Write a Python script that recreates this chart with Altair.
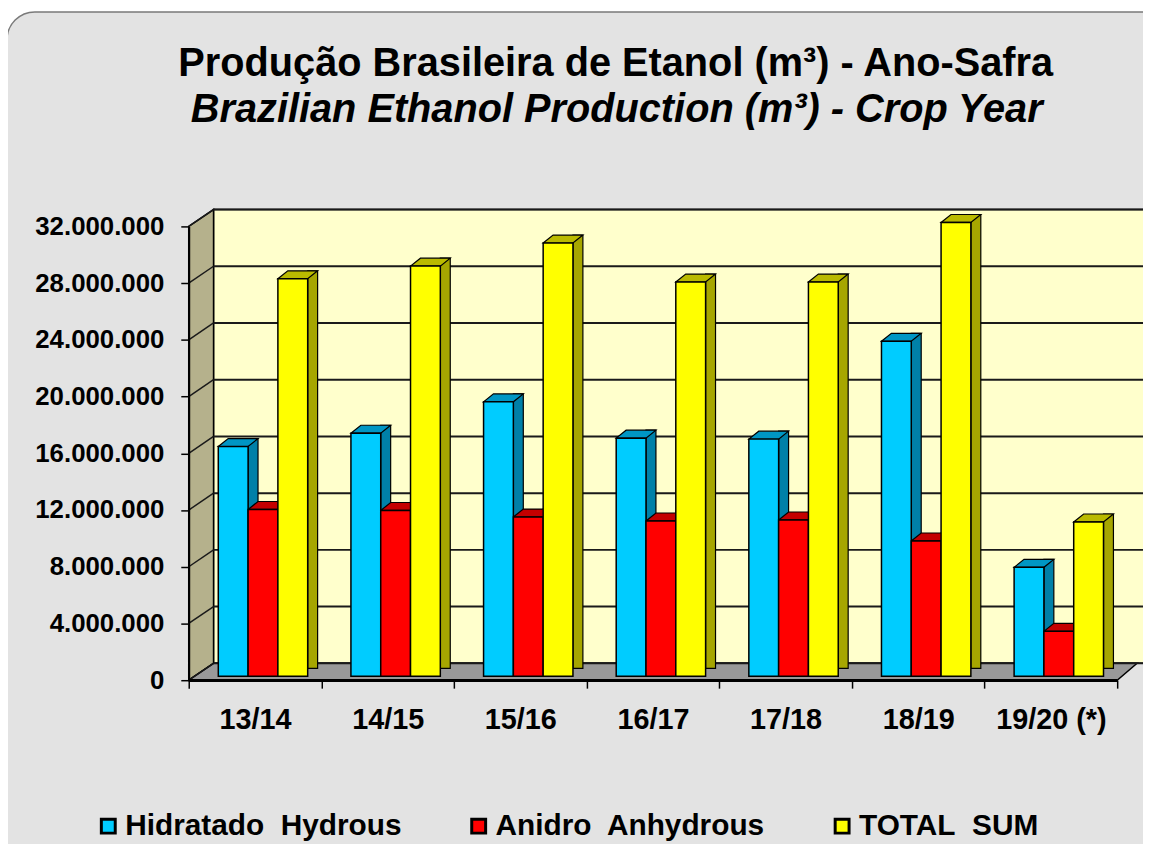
import altair as alt
import pandas as pd

# ---------------- data ----------------
crops = ["13/14", "14/15", "15/16", "16/17", "17/18", "18/19", "19/20 (*)"]
series = ["Hidratado\u00a0 Hydrous", "Anidro\u00a0 Anhydrous", "TOTAL\u00a0 SUM"]
hydrous = [16200000, 17140000, 19350000, 16790000, 16720000, 23620000, 7680000]
anhydrous = [11760000, 11690000, 11230000, 10950000, 11020000, 9540000, 3170000]
total = [28030000, 28920000, 30550000, 27800000, 27800000, 32000000, 10880000]
y_ticks = [0, 4000000, 8000000, 12000000, 16000000, 20000000, 24000000, 28000000, 32000000]
title_pt = "Produção Brasileira de Etanol (m³) - Ano-Safra"
title_en = "Brazilian Ethanol Production (m³) - Crop Year"

# ---------------- styles ----------------
front_colors = ["#00CCFF", "#FF0000", "#FFFF00"]
side_colors = ["#0080A8", "#A00000", "#A6A600"]
top_colors = ["#0096C4", "#C40000", "#BABA00"]
FONT = "Liberation Sans"

W, H = 935, 457          # plot area (front plane)
DX, DY = 25, 17          # wall depth
BX, BY = 10, 8           # bar depth
SX, SY = 8, 4            # bar set-back
PI, PO = 0.326, 0.163
SUB = W / 7 * (1 - PI) / 3   # width of one bar
h = SUB / 2

rows = []
for i, c in enumerate(crops):
    for s, vals in zip(series, [hydrous, anhydrous, total]):
        rows.append({"crop": c, "series": s, "value": vals[i]})
df = pd.DataFrame(rows)
ticks_df = pd.DataFrame({"v": y_ticks})
one = pd.DataFrame({"k": [0]})

y_scale = alt.Scale(domain=[0, 32000000], nice=False, zero=True)
y_axis = alt.Axis(
    title=None, values=y_ticks,
    labelExpr="replace(replace(format(datum.value, ',d'), ',', '.'), ',', '.')",
    labelFontSize=26, labelFontWeight="bold", labelFont=FONT, labelColor="black",
    grid=False, domainColor="black", domainWidth=2, tickColor="black", tickSize=8,
    tickWidth=1.5, labelPadding=17, zindex=1,
)
x_axis = alt.Axis(
    title=None, labelFontSize=29, labelFontWeight="bold", labelFont=FONT, labelColor="black",
    labelAngle=0, domainColor="black", domainWidth=2.5, tickColor="black", tickWidth=1.5,
    tickSize=8, tickBand="extent", labelPadding=18, labelLimit=300, zindex=1,
)


def yenc(field="value"):
    return alt.Y(f"{field}:Q", scale=y_scale, axis=y_axis)


def xbars(shift):
    return alt.X("crop:N", sort=crops, axis=None,
                 scale=alt.Scale(type="band", paddingInner=PI, paddingOuter=PO,
                                 range=[shift, W + shift]))


xo = alt.XOffset("series:N", sort=series,
                 scale=alt.Scale(type="band", domain=series, paddingInner=0, paddingOuter=0))

# ---------------- decorations ----------------
panel = alt.Chart(one).mark_rect(
    cornerRadius=28, fill="#E3E3E3", stroke="#7A7A7A", strokeWidth=1.5
).encode(x=alt.value(-183), x2=alt.value(1000), y=alt.value(-216), y2=alt.value(660))


def poly(points, fill, sw=1.5):
    path = "M" + "L".join(f"{a},{b}" for a, b in points) + "Z"
    return alt.Chart(one).mark_point(
        shape=path, size=4, filled=True, fill=fill, stroke="black",
        strokeWidth=sw, opacity=1
    ).encode(x=alt.value(0), y=alt.value(H))


back_wall = poly([(DX, -DY), (W + DX + 10, -DY), (W + DX + 10, -H - DY), (DX, -H - DY)], "#FFFFCC")
side_wall = poly([(0, 0), (DX, -DY), (DX, -H - DY), (0, -H)], "#B5B18C")
floor = poly([(0, 0), (W, 0), (W + DX - 5, -DY), (DX, -DY)], "#999999")

grid = alt.Chart(ticks_df).mark_rule(color="#1A1A1A", strokeWidth=2, yOffset=-DY).encode(
    y=yenc("v"), x=alt.value(DX), x2=alt.value(W + DX + 10)
)
diag = alt.Chart(ticks_df).mark_rule(color="#1A1A1A", strokeWidth=1.5, y2Offset=-DY).encode(
    y=yenc("v"), y2=alt.Y2("v"), x=alt.value(0), x2=alt.value(DX)
)

# invisible layer that carries the category axis (ticks at band extents)
axis_holder = alt.Chart(df).mark_bar(opacity=0).encode(
    x=alt.X("crop:N", sort=crops, axis=x_axis,
            scale=alt.Scale(type="band", paddingInner=0, paddingOuter=0)),
    y=yenc(),
)

# ---------------- bars ----------------
sides = alt.Chart(df).mark_bar(
    width=BX, yOffset=-SY - BY, y2Offset=-SY - BY / 2, stroke="black", strokeWidth=1.2
).encode(
    x=xbars(SX + h + BX / 2), xOffset=xo, y=yenc(),
    color=alt.Color("series:N", scale=alt.Scale(domain=series, range=side_colors), legend=None),
)

tops = alt.Chart(df).mark_point(
    shape=f"M{-h},0L{h},0L{h + BX},{-BY}L{-h + BX},{-BY}Z", size=4, filled=True, opacity=1,
    stroke="black", strokeWidth=1.2, yOffset=-SY
).encode(
    x=xbars(SX), xOffset=xo, y=yenc(),
    color=alt.Color("series:N", scale=alt.Scale(domain=series, range=top_colors), legend=None),
)

fronts = alt.Chart(df).mark_bar(
    yOffset=-SY, y2Offset=-SY, stroke="black", strokeWidth=1.5
).encode(
    x=xbars(SX), xOffset=xo, y=yenc(),
    color=alt.Color("series:N", sort=series,
                    scale=alt.Scale(domain=series, range=front_colors),
                    legend=alt.Legend(
                        title=None, orient="none", legendX=-96, legendY=589,
                        direction="horizontal", symbolType="square", symbolSize=196,
                        symbolStrokeColor="black", symbolStrokeWidth=3, symbolOpacity=1,
                        labelFontSize=30, labelFontWeight="bold", labelFont=FONT,
                        labelColor="black", labelOffset=2, columnPadding=62,
                        labelLimit=400, padding=0,
                    )),
)

front_edge = alt.Chart(one).mark_rule(color="black", strokeWidth=2.5).encode(
    x=alt.value(0), x2=alt.value(W), y=alt.value(H)
)

# ---------------- titles ----------------
t1 = alt.Chart(one).mark_text(
    text=title_pt, font=FONT, fontSize=40, fontWeight="bold", color="black",
    align="center", baseline="middle"
).encode(x=alt.value(430), y=alt.value(-163))
t2 = alt.Chart(one).mark_text(
    text=title_en, font=FONT, fontSize=40, fontWeight="bold", fontStyle="italic",
    color="black", align="center", baseline="middle"
).encode(x=alt.value(431), y=alt.value(-117))

chart = alt.layer(
    panel, back_wall, side_wall, floor, grid, diag, axis_holder, sides, tops, fronts,
    front_edge, t1, t2
).resolve_scale(color="independent", x="independent", xOffset="independent").properties(
    width=W, height=H,
    padding={"left": 182, "top": 217, "right": 26, "bottom": 162},
    autosize=alt.AutoSizeParams(type="none"),
).configure(background="white").configure_view(stroke=None)

chart.save("out.html", embed_options={"renderer": "svg", "actions": False})
